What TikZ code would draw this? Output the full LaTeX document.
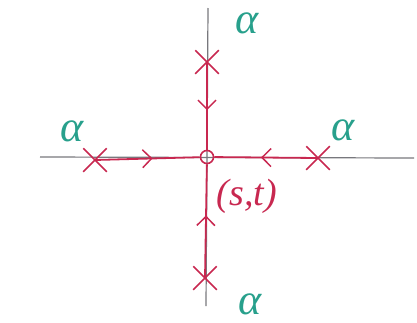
\documentclass[tikz,border=0pt]{standalone}
\usepackage{fontspec}
\setmainfont{Liberation Serif}
\usetikzlibrary{arrows.meta,decorations.markings,shapes.misc}
\definecolor{inkred}{RGB}{200,40,80}
\definecolor{inkteal}{RGB}{40,160,140}
\definecolor{axisgray}{RGB}{120,120,125}
\tikzset{
  axis/.style={draw=axisgray,line width=1.2pt},
  xmark/.style={cross out,draw=inkred,line width=1.5pt,minimum size=22pt,inner sep=0pt},
  flow/.style={draw=inkred,line width=1.8pt,postaction={decorate},
    decoration={markings,mark=at position 0.55 with {\arrow[inkred,line width=1.5pt]{Straight Barb[length=9pt,width=18pt]}}}},
  alab/.style={text=inkteal,font=\fontsize{44}{44}\selectfont\itshape,inner sep=0pt,
    text height=0.5em,text depth=0pt,anchor=base},
  center/.style={circle,draw=inkred,line width=1.6pt,minimum size=13pt,inner sep=0pt},
}
\begin{document}
\begin{tikzpicture}[x=1pt,y=-1pt]
\useasboundingbox (0,0) rectangle (417,322);
% axes
\coordinate (hl) at (40,157);
\coordinate (hr) at (414,158);
\coordinate (vt) at (208,8);
\coordinate (vb) at (206,306);
\draw[axis] (hl) -- (hr);
\draw[axis] (vt) -- (vb);
% center
\node[center] (c) at (207,157) {};
% crosses
\node[xmark] (top) at (207,62) {};
\node[xmark] (left) at (95,160) {};
\node[xmark] (right) at (318,158) {};
\node[xmark] (bot) at (205,278) {};
% flows
\draw[flow] (top.center) -- (c);
\draw[flow] (left.center) -- (c);
\draw[flow] (right.center) -- (c);
\draw[flow] (bot.center) -- (c);
% labels
\node[alab] (a1) at (247,33) {α};
\node[alab] (a2) at (72,141) {α};
\node[alab] (a3) at (343,140) {α};
\node[alab] (a4) at (250,314) {α};
\node[text=inkred,font=\fontsize{38}{38}\selectfont\itshape,inner sep=0pt] (st) at (247,196) {(s,t)};
\end{tikzpicture}
\end{document}
